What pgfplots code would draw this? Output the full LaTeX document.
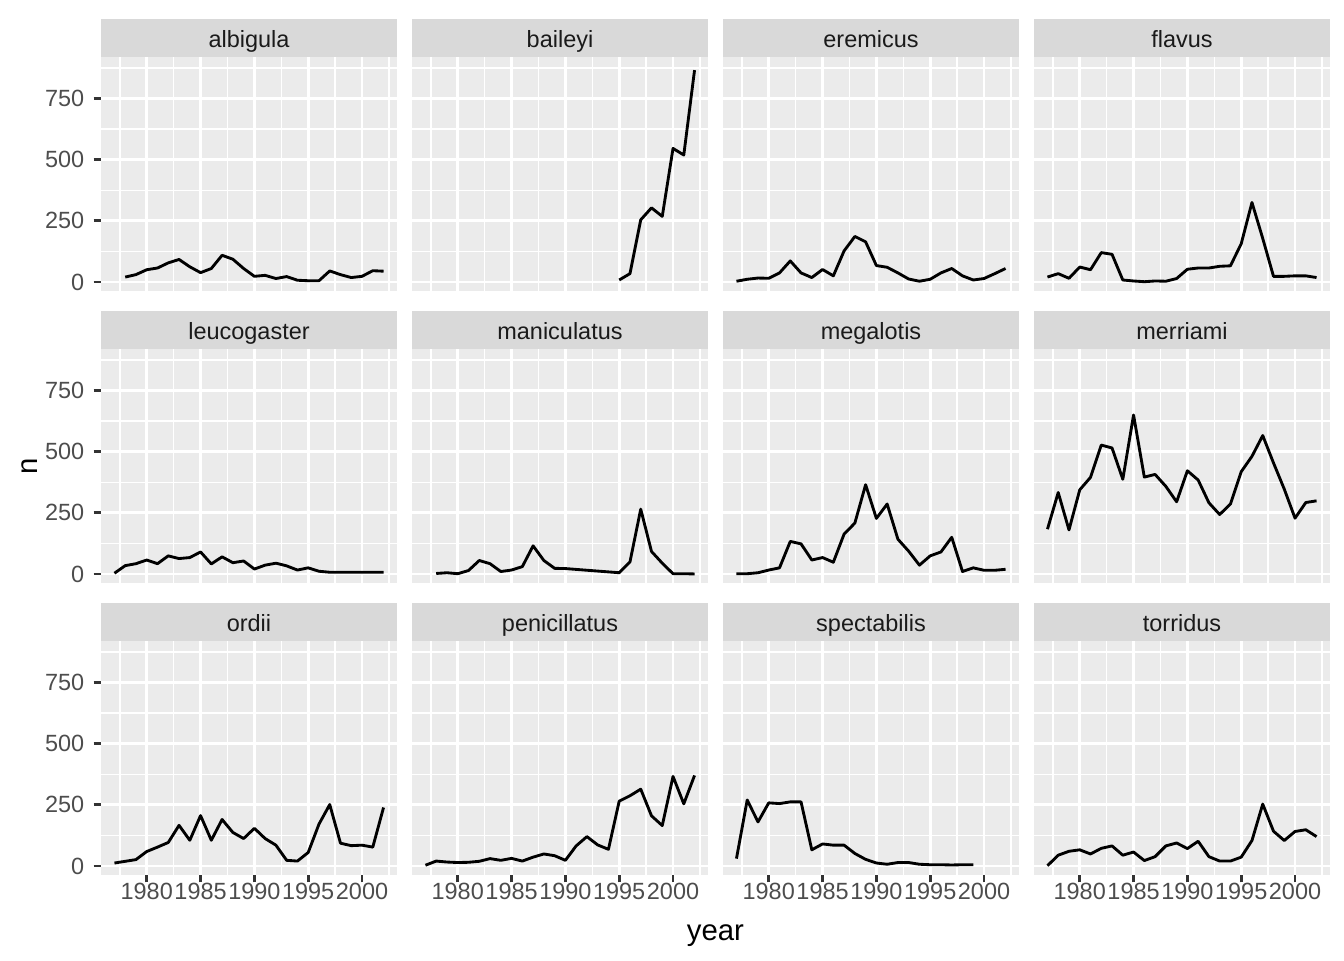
\documentclass[border=0pt]{standalone}
\usepackage{fontspec}
\setmainfont{Liberation Sans}
\usepackage{pgfplots}
\pgfplotsset{compat=1.18}
\definecolor{grey92}{HTML}{EBEBEB}
\definecolor{grey85}{HTML}{D9D9D9}
\definecolor{grey30}{HTML}{4D4D4D}
\definecolor{grey20}{HTML}{333333}
\definecolor{grey10}{HTML}{1A1A1A}
\pgfplotsset{
  facet/.style={
    scale only axis, width=111pt, height=87.6pt, anchor=south west,
    xmin=1975.75, xmax=2003.25, ymin=-37, ymax=918,
    xtick={1980,1985,1990,1995,2000},
    minor xtick={1977.5,1982.5,1987.5,1992.5,1997.5,2002.5},
    ytick={0,250,500,750}, minor ytick={125,375,625,875},
    grid=both,
    major grid style={white, line width=1.07pt},
    minor grid style={white, line width=0.53pt},
    axis background/.style={fill=grey92},
    axis line style={draw=none},
    tick pos=left, tick align=outside,
    major tick length=2.75pt, minor tick length=0pt,
    major tick style={grey20, line width=1.07pt},
    minor tick style={draw=none},
    /pgf/number format/assume math mode=true,
    /pgf/number format/1000 sep={},
    tick label style={font=\fontsize{8.8}{10}\selectfont, text=grey30},
    xticklabel style={yshift=3.1pt},
    every axis title/.style={at={(0.5,1)}, anchor=south, fill=grey85, text=grey10,
      minimum width=111pt, minimum height=14.25pt, inner sep=0pt,
      text height=7.2pt, text depth=0pt,
      font=\fontsize{8.8}{10}\selectfont},
    xmajorticks=false, ymajorticks=false,
  },
  xlab/.style={xmajorticks=true},
  ylab/.style={ymajorticks=true},
  dline/.style={black, line width=1.07pt, line join=round, mark=none},
}
\begin{document}
\begin{tikzpicture}
\useasboundingbox (0,0) rectangle (504pt,360pt);
% Row 1
\begin{axis}[facet, ylab, at={(37.875pt,250.875pt)}, title={albigula}]
\addplot[dline] coordinates {(1978,20)(1979,30)(1980,50)(1981,57)(1982,78)(1983,92)(1984,62)(1985,38)(1986,55)(1987,109)(1988,93)(1989,55)(1990,23)(1991,27)(1992,14)(1993,22)(1994,7)(1995,5)(1996,5)(1997,45)(1998,30)(1999,18)(2000,23)(2001,46)(2002,44)};
\end{axis}
\begin{axis}[facet, at={(154.5pt,250.875pt)}, title={baileyi}]
\addplot[dline] coordinates {(1995,8)(1996,34)(1997,254)(1998,303)(1999,268)(2000,546)(2001,519)(2002,866)};
\end{axis}
\begin{axis}[facet, at={(271.125pt,250.875pt)}, title={eremicus}]
\addplot[dline] coordinates {(1977,3)(1978,11)(1979,16)(1980,15)(1981,37)(1982,86)(1983,37)(1984,18)(1985,51)(1986,25)(1987,127)(1988,186)(1989,164)(1990,67)(1991,60)(1992,37)(1993,12)(1994,3)(1995,11)(1996,37)(1997,55)(1998,25)(1999,8)(2000,14)(2001,34)(2002,55)};
\end{axis}
\begin{axis}[facet, at={(387.75pt,250.875pt)}, title={flavus}]
\addplot[dline] coordinates {(1977,20)(1978,34)(1979,15)(1980,61)(1981,50)(1982,120)(1983,113)(1984,8)(1985,4)(1986,1)(1987,4)(1988,3)(1989,14)(1990,52)(1991,57)(1992,57)(1993,64)(1994,66)(1995,156)(1996,325)(1997,178)(1998,23)(1999,23)(2000,25)(2001,25)(2002,18)};
\end{axis}
% Row 2
\begin{axis}[facet, ylab, at={(37.875pt,141.375pt)}, title={leucogaster}]
\addplot[dline] coordinates {(1977,3)(1978,34)(1979,42)(1980,57)(1981,42)(1982,74)(1983,63)(1984,67)(1985,90)(1986,41)(1987,70)(1988,46)(1989,53)(1990,20)(1991,36)(1992,44)(1993,33)(1994,16)(1995,25)(1996,11)(1997,7)(1998,7)(1999,7)(2000,7)(2001,7)(2002,7)};
\end{axis}
\begin{axis}[facet, at={(154.5pt,141.375pt)}, title={maniculatus}]
\addplot[dline] coordinates {(1978,2)(1979,5)(1980,1)(1981,14)(1982,55)(1983,42)(1984,10)(1985,16)(1986,30)(1987,115)(1988,55)(1989,23)(1990,22)(1995,5)(1996,49)(1997,265)(1998,92)(1999,44)(2000,1)(2001,1)(2002,0)};
\end{axis}
\begin{axis}[facet, at={(271.125pt,141.375pt)}, title={megalotis}]
\addplot[dline] coordinates {(1977,1)(1978,1)(1979,5)(1980,16)(1981,25)(1982,133)(1983,123)(1984,57)(1985,67)(1986,48)(1987,163)(1988,208)(1989,365)(1990,227)(1991,286)(1992,142)(1993,93)(1994,36)(1995,74)(1996,90)(1997,150)(1998,10)(1999,25)(2000,15)(2001,15)(2002,19)};
\end{axis}
\begin{axis}[facet, at={(387.75pt,141.375pt)}, title={merriami}]
\addplot[dline] coordinates {(1977,183)(1978,333)(1979,180)(1980,344)(1981,395)(1982,527)(1983,515)(1984,387)(1985,650)(1986,396)(1987,407)(1988,358)(1989,295)(1990,422)(1991,384)(1992,291)(1993,243)(1994,286)(1995,418)(1996,481)(1997,566)(1998,454)(1999,347)(2000,228)(2001,292)(2002,299)};
\end{axis}
% Row 3
\begin{axis}[facet, xlab, ylab, at={(37.875pt,31.875pt)}, title={ordii}]
\addplot[dline] coordinates {(1977,12)(1978,19)(1979,26)(1980,59)(1981,77)(1982,96)(1983,166)(1984,105)(1985,206)(1986,105)(1987,190)(1988,137)(1989,112)(1990,154)(1991,112)(1992,85)(1993,23)(1994,20)(1995,55)(1996,171)(1997,251)(1998,93)(1999,83)(2000,85)(2001,77)(2002,239)};
\end{axis}
\begin{axis}[facet, xlab, at={(154.5pt,31.875pt)}, title={penicillatus}]
\addplot[dline] coordinates {(1977,3)(1978,20)(1979,16)(1980,14)(1981,15)(1982,19)(1983,30)(1984,23)(1985,31)(1986,20)(1987,36)(1988,49)(1989,42)(1990,23)(1991,82)(1992,120)(1993,86)(1994,68)(1995,265)(1996,287)(1997,314)(1998,205)(1999,165)(2000,366)(2001,254)(2002,370)};
\end{axis}
\begin{axis}[facet, xlab, at={(271.125pt,31.875pt)}, title={spectabilis}]
\addplot[dline] coordinates {(1977,30)(1978,270)(1979,180)(1980,258)(1981,255)(1982,262)(1983,262)(1984,66)(1985,90)(1986,85)(1987,85)(1988,51)(1989,27)(1990,12)(1991,7)(1992,14)(1993,14)(1994,7)(1995,5)(1996,5)(1997,4)(1998,5)(1999,5)};
\end{axis}
\begin{axis}[facet, xlab, at={(387.75pt,31.875pt)}, title={torridus}]
\addplot[dline] coordinates {(1977,1)(1978,44)(1979,60)(1980,66)(1981,49)(1982,72)(1983,82)(1984,44)(1985,57)(1986,22)(1987,38)(1988,82)(1989,94)(1990,71)(1991,101)(1992,38)(1993,20)(1994,20)(1995,36)(1996,104)(1997,253)(1998,142)(1999,104)(2000,141)(2001,148)(2002,120)};
\end{axis}
\node[font=\fontsize{11}{13}\selectfont, text=black] at (268.3pt,9.3pt) {year};
\node[font=\fontsize{11}{13}\selectfont, text=black, rotate=90] at (11.25pt,185.25pt) {n};
\end{tikzpicture}
\end{document}
